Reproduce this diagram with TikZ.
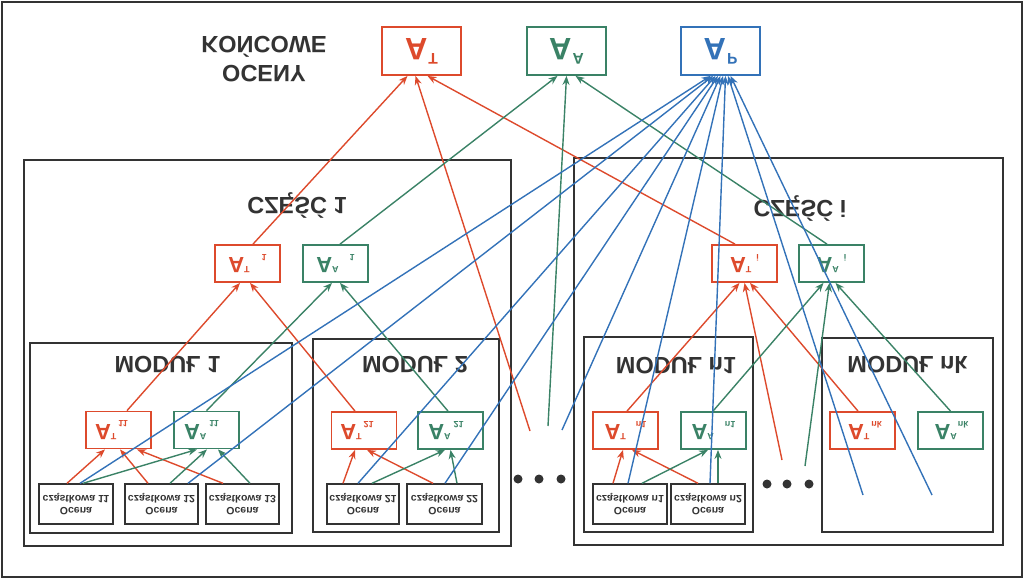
\documentclass[tikz,border=0pt]{standalone}
\usepackage{fontspec}
\setmainfont{Liberation Sans}
\usepackage{graphicx}
\usetikzlibrary{arrows.meta}
\definecolor{cr}{HTML}{DD4A2C}
\definecolor{cg}{HTML}{3A8266}
\definecolor{cb}{HTML}{3372B8}
\definecolor{dk}{HTML}{333333}
\newcommand{\fl}[1]{\scalebox{1}[-1]{#1}}
\newcommand{\Ab}[3]{\fl{\fontsize{22}{22}\selectfont A\raisebox{9pt}{\fontsize{9}{9}\selectfont #1}\kern#2\raisebox{-3.5pt}{\fontsize{9}{9}\selectfont #3}}}
\newcommand{\At}[1]{\fl{\fontsize{31}{31}\selectfont A\kern1pt\raisebox{15pt}{\fontsize{15.5}{15.5}\selectfont #1}}}
\newcommand{\oc}[1]{\fl{\begin{tabular}{@{}c@{}}Ocena\\cząstkowa #1\end{tabular}}}
\newcommand{\lb}[1]{\fl{#1}}
\tikzset{
  rbox/.style={draw=cr, line width=1.8pt, text=cr, minimum width=65pt, minimum height=37pt, inner sep=0pt},
  gbox/.style={rbox, draw=cg, text=cg},
  topbox/.style={line width=1.8pt, minimum width=79pt, minimum height=48pt, inner sep=0pt},
  partbox/.style={draw=dk, line width=2pt, inner sep=0pt},
  ocbox/.style={draw=dk, line width=1.4pt, minimum width=74pt, minimum height=40pt, inner sep=0pt, text=dk, font=\bfseries\fontsize{10.5}{12.5}\selectfont},
  lbl/.style={text=dk, font=\bfseries\fontsize{23.5}{26}\selectfont, inner sep=0pt},
  ra/.style={draw=cr, line width=1.4pt, -{Stealth[length=9pt,width=7pt]}},
  ga/.style={ra, draw=cg},
  ba/.style={ra, draw=cb},
}
\begin{document}
\begin{tikzpicture}[x=1pt, y=-1pt, font=\bfseries]
\useasboundingbox (0,0) rectangle (1024,579);
\draw[dk, line width=2.5pt] (2,2) rectangle (1022,577);
% top
\node[lbl, align=center] (fin) at (264,56) {\fl{\begin{tabular}{@{}c@{}}OCENY\\KOŃCOWE\end{tabular}}};
\node[topbox, draw=cr, text=cr] (AT) at (421.5,51) {\At{T}};
\node[topbox, draw=cg, text=cg] (AA) at (566.5,51) {\At{A}};
\node[topbox, draw=cb, text=cb] (AP) at (720.5,51) {\At{P}};
% parts
\node[partbox, minimum width=487pt, minimum height=386pt] (P1) at (267.5,353) {};
\node[partbox, minimum width=429pt, minimum height=387pt] (Pi) at (788.5,351.5) {};
\node[lbl] (c1) at (297,205) {\lb{CZĘŚĆ 1}};
\node[lbl] (ci) at (800,208) {\lb{CZĘŚĆ i}};
\node[rbox] (AT1) at (247.5,263.5) {\Ab{T}{12pt}{1}};
\node[gbox] (AA1) at (335.5,263.5) {\Ab{A}{11pt}{1}};
\node[rbox] (ATi) at (744.5,263.5) {\Ab{T}{5pt}{i}};
\node[gbox] (AAi) at (831.5,263.5) {\Ab{A}{5pt}{i}};
% modules
\node[partbox, minimum width=262pt, minimum height=190pt] (M1) at (161,438) {};
\node[partbox, minimum width=186pt, minimum height=193pt] (M2) at (406,435.5) {};
\node[partbox, minimum width=169pt, minimum height=195pt] (Mn1) at (668.5,434.5) {};
\node[partbox, minimum width=171pt, minimum height=194pt] (Mnk) at (907.5,435) {};
\node[lbl] (m1) at (167.5,365) {\lb{MODUŁ 1}};
\node[lbl] (m2) at (415,365) {\lb{MODUŁ 2}};
\node[lbl] (mn1) at (676,366) {\lb{MODUŁ n1}};
\node[lbl] (mnk) at (907.5,365) {\lb{MODUŁ nk}};
\node[rbox] (AT11) at (118.5,430) {\Ab{T}{2pt}{11}\kern14pt};
\node[gbox] (AA11) at (206.5,430) {\Ab{A}{3pt}{11}\kern10pt};
\node[rbox] (AT21) at (364,430.5) {\Ab{T}{2pt}{21}\kern14pt};
\node[gbox] (AA21) at (450.5,430.5) {\Ab{A}{3pt}{21}\kern9pt};
\node[rbox] (ATn1) at (625.5,430.5) {\Ab{T}{10pt}{n1}};
\node[gbox] (AAn1) at (713.5,430.5) {\Ab{A}{11pt}{n1}};
\node[rbox] (ATnk) at (862.5,430.5) {\kern5pt\Ab{T}{2pt}{nk}};
\node[gbox] (AAnk) at (950.5,430.5) {\kern2pt\Ab{A}{1pt}{nk}};
% ocena boxes
\node[ocbox] (o11) at (76,504) {\oc{11}};
\node[ocbox, minimum width=73pt] (o12) at (161.5,504) {\oc{12}};
\node[ocbox, minimum width=73pt] (o13) at (242.5,504) {\oc{13}};
\node[ocbox, minimum width=72pt] (o21) at (363,504) {\oc{21}};
\node[ocbox, minimum width=75pt] (o22) at (444.5,504) {\oc{22}};
\node[ocbox] (on1) at (630,504) {\oc{n1}};
\node[ocbox] (on2) at (708,504) {\oc{n2}};
% dots
\fill[dk] (518,479) circle[radius=4.5pt] (539,479) circle[radius=4.5pt] (561,479) circle[radius=4.5pt];
\fill[dk] (767,484) circle[radius=4.5pt] (787,484) circle[radius=4.5pt] (809,484) circle[radius=4.5pt];
% free ends
\coordinate (fr1) at (530,431);
\coordinate (fg1) at (548,426);
\coordinate (fb1) at (562,430);
\coordinate (fr2) at (782,460);
\coordinate (fg2) at (805,466);
\coordinate (fb2) at (863,495);
\coordinate (fb3) at (932,495);
% module 1
\draw[ra] ([xshift=-9pt]o11.north) -- ([xshift=-13.5pt]AT11.south);
\draw[ra] ([xshift=-13.5pt]o12.north) -- ([xshift=1.5pt]AT11.south);
\draw[ra] ([xshift=-19.5pt]o13.north) -- ([xshift=18.5pt]AT11.south);
\draw[ga] ([xshift=7pt]o11.north) -- ([xshift=-9.5pt]AA11.south);
\draw[ga] ([xshift=8.5pt]o12.north) -- ([xshift=0.5pt]AA11.south);
\draw[ga] ([xshift=7.5pt]o13.north) -- ([xshift=11.5pt]AA11.south);
% module 2
\draw[ra] ([xshift=-20pt]o21.north) -- ([xshift=-9pt]AT21.south);
\draw[ra] ([xshift=-11.5pt]o22.north) -- ([xshift=3pt]AT21.south);
\draw[ga] ([xshift=9pt]o21.north) -- ([xshift=-5.5pt]AA21.south);
\draw[ga] ([xshift=12.5pt]o22.north) -- ([xshift=0pt]AA21.south);
% module n1
\draw[ra] ([xshift=-17pt]on1.north) -- ([xshift=-2.5pt]ATn1.south);
\draw[ra] ([xshift=-10pt]on2.north) -- ([xshift=6.5pt]ATn1.south);
\draw[ga] ([xshift=12pt]on1.north) -- ([xshift=-5.5pt]AAn1.south);
\draw[ga] ([xshift=10pt]on2.north) -- ([xshift=4.5pt]AAn1.south);
% modules to parts
\draw[ra] ([xshift=8.5pt]AT11.north) -- ([xshift=-7.5pt]AT1.south);
\draw[ra] ([xshift=-9pt]AT21.north) -- ([xshift=2.5pt]AT1.south);
\draw[ga] (AA11.north) -- ([xshift=-3.5pt]AA1.south);
\draw[ga] ([xshift=-2.5pt]AA21.north) -- ([xshift=4.5pt]AA1.south);
\draw[ra] ([xshift=1.5pt]ATn1.north) -- ([xshift=-5pt]ATi.south);
\draw[ra] (fr2) -- (ATi.south);
\draw[ra] ([xshift=-4.5pt]ATnk.north) -- ([xshift=5.5pt]ATi.south);
\draw[ga] ([xshift=-0.5pt]AAn1.north) -- ([xshift=-8pt]AAi.south);
\draw[ga] (fg2) -- ([xshift=-2pt]AAi.south);
\draw[ga] (AAnk.north) -- ([xshift=4pt]AAi.south);
% parts to final
\draw[ra] ([xshift=5.5pt]AT1.north) -- ([xshift=-14pt]AT.south);
\draw[ra] (fr1) -- ([xshift=-6pt]AT.south);
\draw[ra] ([xshift=-9.5pt]ATi.north) -- ([xshift=6pt]AT.south);
\draw[ga] ([xshift=4.5pt]AA1.north) -- ([xshift=-9pt]AA.south);
\draw[ga] (fg1) -- (AA.south);
\draw[ga] ([xshift=-4.5pt]AAi.north) -- ([xshift=9pt]AA.south);
% blue
\draw[ba] ([xshift=4pt]o11.north) -- ([xshift=-10pt]AP.south);
\draw[ba] ([xshift=26.5pt]o12.north) -- ([xshift=-7.5pt]AP.south);
\draw[ba] ([xshift=-5pt]o21.north) -- ([xshift=-5pt]AP.south);
\draw[ba] ([xshift=0.5pt]o22.north) -- ([xshift=-2.5pt]AP.south);
\draw[ba] (fb1) -- (AP.south);
\draw[ba] ([xshift=-2pt]on1.north) -- ([xshift=2.5pt]AP.south);
\draw[ba] ([xshift=2pt]on2.north) -- ([xshift=5pt]AP.south);
\draw[ba] (fb2) -- ([xshift=7.5pt]AP.south);
\draw[ba] (fb3) -- ([xshift=10pt]AP.south);
\end{tikzpicture}
\end{document}
